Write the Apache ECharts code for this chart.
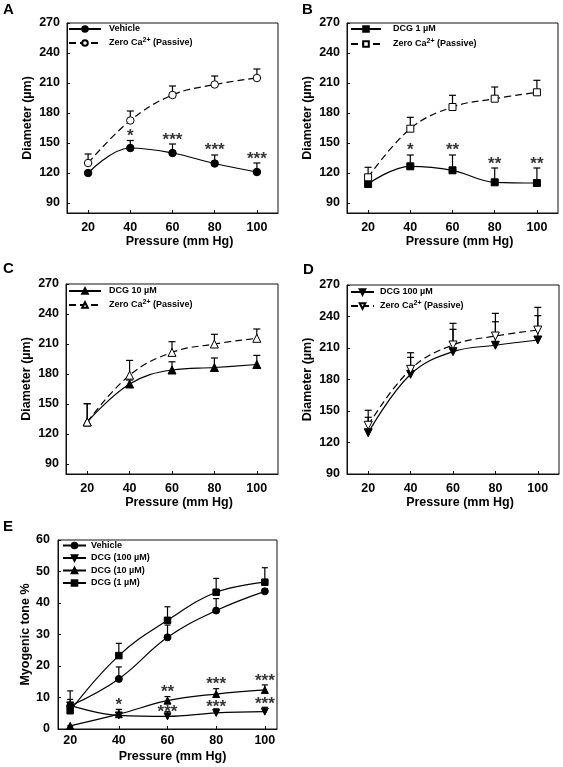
<!DOCTYPE html>
<html><head><meta charset="utf-8">
<script src="https://cdn.jsdelivr.net/npm/echarts@6/dist/echarts.min.js"></script>
<style>html,body{margin:0;padding:0;background:#fff}#c{width:563px;height:767px}</style>
</head><body><div id="c"></div>
<script>
// ---------- data ----------
const pressure = [20, 40, 60, 80, 100];
const xTicks = [20, 40, 60, 80, 100];
const yTicksDiam = [90, 120, 150, 180, 210, 240, 270];
const yTicksTone = [0, 10, 20, 30, 40, 50, 60];

// Panel A
const aVehicle = [120, 145, 140, 129.5, 121];
const aVehicleTop = [121.5, 152.5, 149, 138, 130];
const aPassive = [130, 172.5, 198, 208.5, 215];
const aPassiveTop = [139, 182, 207, 217, 224];
const aStarY = [null, 160, 156.6, 146.6, 137.6];
const aStarTxt = ['', '*', '***', '***', '***'];

// Panel B
const bDcg1 = [109, 126.7, 122.7, 110.7, 110];
const bDcg1Top = [112, 138, 138, 125, 125];
const bPassive = [115.7, 164.3, 186, 194.3, 200.7];
const bPassiveTop = [125.7, 175.7, 197.7, 206, 212.7];
const bStarY = [null, 146.6, 146.6, 132.3, 132.3];
const bStarTxt = ['', '*', '**', '**', '**'];

// Panel C
const cDcg10 = [132, 170, 184, 186.5, 189.5];
const cDcg10Top = [150.3, 174, 192.2, 196, 198.6];
const cPassive = [132, 178.8, 201.6, 210, 215.7];
const cPassiveTop = [150.3, 193.6, 212.3, 219.7, 225];

// Panel D
const dDcg100 = [129.3, 185, 206.5, 212.6, 217.6];
const dDcg100Top = [144, 201.1, 227.8, 235, 240.8];
const dPassive = [136.4, 189.7, 212.9, 221.4, 227.1];
const dPassiveTop = [150.7, 205.5, 233.5, 243, 248.7];

// Panel E (myogenic tone %)
const eVehicle = [7.3, 15.9, 29.1, 37.6, 43.7];
const eVehicleTop = [9.4, 19.7, 33, 41.4, 44.5];
const eDcg100 = [7.5, 4.3, 4.0, 5.1, 5.5];
const eDcg100Top = [8, 6.2, 5.5, 6.4, 6.9];
const eDcg10 = [1.0, 4.7, 9.0, 11.1, 12.4];
const eDcg10Top = [1.0, 6.2, 10.3, 12.8, 14.0];
const eDcg1 = [5.8, 23.3, 34.5, 43.4, 46.6];
const eDcg1Top = [12.1, 27.2, 38.8, 47.8, 51.2];
const eStarUpY = [null, 8.7, 12.6, 15.2, 16.4];
const eStarUpTxt = ['', '*', '**', '***', '***'];
const eStarLowY = [null, null, 6.3, 8.0, 9.0];
const eStarLowTxt = ['', '', '***', '***', '***'];

// ---------- chart ----------
const FONT = "'Liberation Sans', Arial, Helvetica, sans-serif";
const labelMap = {
  A1: 'Vehicle', A2: '{b|Zero Ca}{s|2+}{b| (Passive)}',
  B1: 'DCG 1 µM', B2: '{b|Zero Ca}{s|2+}{b| (Passive)}',
  C1: 'DCG 10 µM', C2: '{b|Zero Ca}{s|2+}{b| (Passive)}',
  D1: 'DCG 100 µM', D2: '{b|Zero Ca}{s|2+}{b| (Passive)}',
  E1: 'Vehicle', E2: 'DCG (100 µM)', E3: 'DCG (10 µM)', E4: 'DCG (1 µM)'
};

const grids = [
  {left: 67, top: 23, width: 211, height: 190},
  {left: 347, top: 23, width: 211, height: 190},
  {left: 66, top: 284, width: 212, height: 190},
  {left: 347, top: 285, width: 212, height: 189},
  {left: 58, top: 540, width: 219, height: 189}
].map(g => Object.assign(g, {show: true, borderColor: '#111', borderWidth: 1, backgroundColor: 'transparent'}));

const titleStyle = {fontFamily: FONT, fontWeight: 'bold', fontSize: 12.5, color: '#000'};

function xAx(i, min, max, margin, gap, pad) {
  return {
    type: 'value', gridIndex: i, min, max,
    name: 'Pressure (mm Hg)', nameLocation: 'middle', nameGap: gap,
    nameTextStyle: Object.assign({padding: [0, 0, 0, pad]}, titleStyle),
    axisLine: {lineStyle: {color: '#111', width: 1}},
    axisTick: {inside: true, length: 3, customValues: xTicks, lineStyle: {color: '#111'}},
    axisLabel: Object.assign({customValues: xTicks, margin}, titleStyle),
    splitLine: {show: false}
  };
}
function yAx(i, min, max, ticks, name, gap, margin) {
  return {
    type: 'value', gridIndex: i, min, max,
    name, nameLocation: 'middle', nameGap: gap,
    nameTextStyle: titleStyle,
    axisLine: {lineStyle: {color: '#111', width: 1}},
    axisTick: {inside: true, length: 3, customValues: ticks, lineStyle: {color: '#111'}},
    axisLabel: Object.assign({customValues: ticks, margin}, titleStyle),
    splitLine: {show: false}
  };
}

function lineS(name, i, vals, symbol, size, filled, dashed, rotate) {
  return {
    type: 'line', name, xAxisIndex: i, yAxisIndex: i,
    data: pressure.map((p, k) => [p, vals[k]]),
    smooth: 0.4, symbol, symbolSize: size, symbolRotate: rotate || 0,
    showAllSymbol: true,
    itemStyle: {color: filled ? '#000' : '#fff', borderColor: '#000', borderWidth: 1},
    lineStyle: {color: '#000', width: 1.2, type: dashed ? [7, 4] : 'solid'},
    z: 4, silent: true
  };
}
function errS(i, vals, tops, cap) {
  return {
    type: 'custom', xAxisIndex: i, yAxisIndex: i, silent: true, z: 2,
    data: pressure.map((p, k) => [p, vals[k], tops[k]]),
    encode: {x: 0, y: [1, 2]},
    renderItem: (params, api) => {
      const p0 = api.coord([api.value(0), api.value(1)]);
      const p1 = api.coord([api.value(0), api.value(2)]);
      const st = {stroke: '#000', lineWidth: 1.2};
      return {type: 'group', children: [
        {type: 'line', shape: {x1: p0[0], y1: p0[1], x2: p1[0], y2: p1[1]}, style: st},
        {type: 'line', shape: {x1: p1[0] - cap / 2, y1: p1[1], x2: p1[0] + cap / 2, y2: p1[1]}, style: st}
      ]};
    }
  };
}
function starS(i, ys, txts) {
  const data = [];
  pressure.forEach((p, k) => { if (ys[k] != null && txts[k]) data.push([p, ys[k], txts[k]]); });
  return {
    type: 'scatter', xAxisIndex: i, yAxisIndex: i, silent: true, z: 5,
    symbolSize: 1, itemStyle: {color: 'rgba(0,0,0,0)'},
    data,
    label: {show: true, position: 'inside', offset: [0, 3.5], formatter: p => p.data[2],
      fontFamily: FONT, fontSize: 17, fontWeight: 'bold', color: '#000', lineHeight: 17}
  };
}
function legend(names, left, top, itemWidth, pad, gap, lh) {
  return {
    data: names, orient: 'vertical', left, top, padding: 0, itemGap: gap,
    itemWidth, itemHeight: 7, selectedMode: false,
    formatter: n => labelMap[n],
    textStyle: {
      fontFamily: FONT, fontSize: 9, fontWeight: 'bold', color: '#000', lineHeight: lh,
      padding: [0, 0, 0, pad],
      rich: {
        b: {fontFamily: FONT, fontSize: 9, fontWeight: 'bold', color: '#000', lineHeight: lh},
        s: {fontFamily: FONT, fontSize: 7, fontWeight: 'bold', color: '#000', verticalAlign: 'top', lineHeight: 7}
      }
    }
  };
}

const letters = [['A', 3, 2], ['B', 302, 2], ['C', 3, 261], ['D', 303, 262], ['E', 3, 519]];

const option = {
  backgroundColor: '#fff',
  animation: false,
  grid: grids,
  xAxis: [
    xAx(0, 10, 110, 8, 20, 14),
    xAx(1, 10, 110, 8, 20, 14),
    xAx(2, 10, 110, 8, 20, 14),
    xAx(3, 10, 110, 8, 20, 14),
    xAx(4, 15, 105, 5, 21, 10)
  ],
  yAxis: [
    yAx(0, 80, 270, yTicksDiam, 'Diameter (µm)', 33, 7),
    yAx(1, 80, 270, yTicksDiam, 'Diameter (µm)', 33, 7),
    yAx(2, 80, 270, yTicksDiam, 'Diameter (µm)', 33, 7),
    yAx(3, 90, 270, yTicksDiam, 'Diameter (µm)', 33, 7),
    yAx(4, 0, 60, yTicksTone, 'Myogenic tone %', 24, 8)
  ],
  legend: [
    legend(['A1', 'A2'], 68, 23, 32, 3, 2, 12),
    legend(['B1', 'B2'], 350, 23, 30, 7, 3, 12),
    legend(['C1', 'C2'], 68, 285, 32, 3, 2, 12),
    legend(['D1', 'D2'], 350, 286, 23, 1, 2, 12),
    legend(['E1', 'E2', 'E3', 'E4'], 62, 540, 23, 0, 1.5, 11)
  ],
  graphic: letters.map(([t, x, y]) => ({
    type: 'text', left: x, top: y,
    style: {text: t, fontFamily: FONT, fontWeight: 'bold', fontSize: 15, fill: '#000'}
  })),
  series: [
    errS(0, aVehicle, aVehicleTop, 7), errS(0, aPassive, aPassiveTop, 7),
    lineS('A1', 0, aVehicle, 'circle', 7.5, true, false),
    lineS('A2', 0, aPassive, 'circle', 7.5, false, true),
    starS(0, aStarY, aStarTxt),

    errS(1, bDcg1, bDcg1Top, 7), errS(1, bPassive, bPassiveTop, 7),
    lineS('B1', 1, bDcg1, 'rect', 7, true, false),
    lineS('B2', 1, bPassive, 'rect', 7, false, true),
    starS(1, bStarY, bStarTxt),

    errS(2, cDcg10, cDcg10Top, 7), errS(2, cPassive, cPassiveTop, 7),
    lineS('C1', 2, cDcg10, 'triangle', 8, true, false),
    lineS('C2', 2, cPassive, 'triangle', 8, false, true),

    errS(3, dDcg100, dDcg100Top, 7), errS(3, dPassive, dPassiveTop, 7),
    lineS('D1', 3, dDcg100, 'triangle', 8, true, false, 180),
    lineS('D2', 3, dPassive, 'triangle', 8, false, true, 180),

    errS(4, eVehicle, eVehicleTop, 6), errS(4, eDcg100, eDcg100Top, 6),
    errS(4, eDcg10, eDcg10Top, 6), errS(4, eDcg1, eDcg1Top, 6),
    lineS('E1', 4, eVehicle, 'circle', 7, true, false),
    lineS('E2', 4, eDcg100, 'triangle', 7, true, false, 180),
    lineS('E3', 4, eDcg10, 'triangle', 7, true, false),
    lineS('E4', 4, eDcg1, 'rect', 6.5, true, false),
    starS(4, eStarUpY, eStarUpTxt),
    starS(4, eStarLowY, eStarLowTxt)
  ]
};
const chart = echarts.init(document.getElementById('c'), null, {renderer: 'canvas'});
chart.setOption(option);
</script></body></html>
